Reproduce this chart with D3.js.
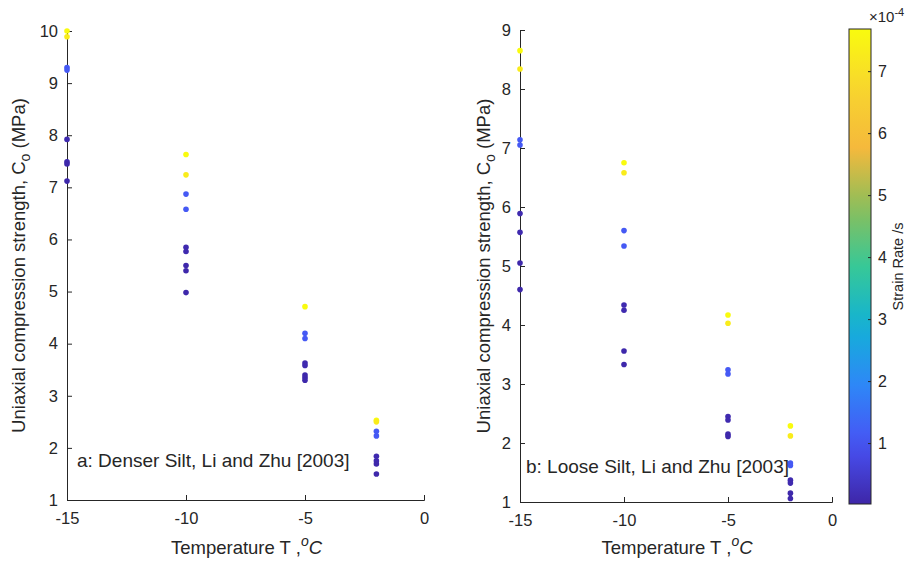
<!DOCTYPE html>
<html><head><meta charset="utf-8">
<script src="https://cdn.jsdelivr.net/npm/d3@7"></script>
<style>
body{margin:0;background:#fff;}
svg text{font-family:"Liberation Sans",Arial,Helvetica,sans-serif;fill:#262626;}
</style></head>
<body><svg id="c" width="913" height="561"></svg>
<script>
// ---- data ----
const xTicks = [-15, -10, -5, 0];
const yTicksA = [1,2,3,4,5,6,7,8,9,10];
const yTicksB = [1,2,3,4,5,6,7,8,9];
const cbTicks = [1,2,3,4,5,6,7];

// Panel a: Denser silt (temperature °C, strength MPa, strain rate x1e-4 /s)
const denseTemp = [-15,-15,-15,-15,-15,-15,-15,-15,
                   -10,-10,-10,-10,-10,-10,-10,-10,-10,
                   -5,-5,-5,-5,-5,-5,-5,-5,
                   -2,-2,-2,-2,-2,-2,-2,-2];
const denseStrength = [10.0,9.89,9.30,9.25,7.92,7.49,7.45,7.12,
                       7.63,7.24,6.87,6.58,5.85,5.77,5.50,5.40,4.98,
                       4.71,4.20,4.10,3.63,3.58,3.40,3.35,3.30,
                       2.53,2.50,2.32,2.23,1.84,1.75,1.69,1.50];
const denseRate = [7.68,7.3,1.1,1.1,0.1,0.1,0.05,0.05,
                   7.68,7.3,1.1,1.1,0.1,0.1,0.05,0.05,0.05,
                   7.68,1.1,1.1,0.1,0.1,0.05,0.05,0.05,
                   7.68,7.3,1.1,1.1,0.1,0.1,0.05,0.05];

// Panel b: Loose silt
const looseTemp = [-15,-15,-15,-15,-15,-15,-15,-15,
                   -10,-10,-10,-10,-10,-10,-10,-10,
                   -5,-5,-5,-5,-5,-5,-5,-5,
                   -2,-2,-2,-2,-2,-2,-2,-2];
const looseStrength = [8.65,8.34,7.14,7.05,5.89,5.57,5.05,4.60,
                       6.75,6.58,5.60,5.34,4.34,4.25,3.56,3.33,
                       4.17,4.03,3.24,3.17,2.45,2.39,2.15,2.11,
                       2.29,2.12,1.66,1.62,1.37,1.32,1.15,1.06];
const looseRate = [7.68,7.3,1.1,1.1,0.1,0.1,0.05,0.05,
                   7.68,7.3,1.1,1.1,0.1,0.1,0.05,0.05,
                   7.68,7.3,1.1,1.1,0.1,0.1,0.05,0.05,
                   7.68,7.3,1.1,1.1,0.1,0.1,0.05,0.05];

const rateMin = 0.017, rateMax = 7.68;

// parula-like colormap
const parulaStops = ["#3e26a8","#4852f4","#2e87f7","#12b1d6","#37c897","#8cbe5a","#f5b93c","#f8d52e","#f9fb0e"];
const parula = d3.scaleLinear().domain(d3.range(parulaStops.length).map(i=>i/(parulaStops.length-1)))
  .range(parulaStops).interpolate(d3.interpolateRgb);
const color = d3.scaleSequential(t=>parula(t)).domain([rateMin, rateMax]);

const svg = d3.select("#c");
const ink = "#262626";
const fmt = d => String(d); // plain hyphen minus like the original

function panel(cfg){
  const x = d3.scaleLinear().domain([-15,0]).range([cfg.x0, cfg.x1]);
  const y = d3.scaleLinear().domain([1, cfg.ymax]).range([cfg.yb, cfg.yt]);
  const g = svg.append("g");
  const xa = g.append("g").attr("transform",`translate(0,${cfg.yb})`)
    .call(d3.axisBottom(x).tickValues(xTicks).tickSize(-5).tickPadding(12).tickFormat(fmt));
  const ya = g.append("g").attr("transform",`translate(${cfg.x0},0)`)
    .call(d3.axisLeft(y).tickValues(cfg.yticks).tickSize(-5).tickPadding(9).tickFormat(fmt));
  [xa,ya].forEach(a=>{
    a.selectAll("path").attr("stroke",ink).attr("stroke-width",1);
    a.selectAll("line").attr("stroke",ink);
    a.selectAll("text").attr("font-size","16.5px").attr("fill",ink);
  });
  const pts = cfg.temp.map((t,i)=>({t, s:cfg.str[i], r:cfg.rate[i]}));
  g.selectAll("circle.p").data(pts).enter().append("circle")
    .attr("cx",d=>x(d.t)).attr("cy",d=>y(d.s)).attr("r",2.8)
    .attr("fill",d=>color(d.r));
  // x label
  const xl = g.append("text").attr("x",(cfg.x0+cfg.x1)/2 + 1).attr("y",554)
    .attr("text-anchor","middle").attr("font-size","18.5px");
  xl.append("tspan").text("Temperature T ,");
  xl.append("tspan").attr("font-style","italic").attr("font-size","14px").attr("dy",-8).text("o");
  xl.append("tspan").attr("font-style","italic").attr("dy",8).text("C");
  // y label
  const yl = g.append("text").attr("transform",`translate(${cfg.ylx},${(cfg.yt+cfg.yb)/2}) rotate(-90)`)
    .attr("text-anchor","middle").attr("font-size","18.5px");
  yl.append("tspan").text("Uniaxial compression strength, C");
  yl.append("tspan").attr("font-size","14px").attr("dy",5).text("o");
  yl.append("tspan").attr("dy",-5).text(" (MPa)");
  // annotation
  g.append("text").attr("x",cfg.bx).attr("y",cfg.by).attr("font-size","19px").text(cfg.note);
}

panel({x0:67,x1:424,yb:500,yt:31,ymax:10,yticks:yTicksA,temp:denseTemp,str:denseStrength,rate:denseRate,
  ylx:25,note:"a: Denser Silt, Li and Zhu [2003]",bx:77,by:467});
panel({x0:520,x1:832,yb:502,yt:30,ymax:9,yticks:yTicksB,temp:looseTemp,str:looseStrength,rate:looseRate,
  ylx:490,note:"b: Loose Silt, Li and Zhu [2003]",bx:526,by:473});

// colorbar
const cbX=849, cbW=22, cbTop=29, cbBot=504;
const cy = d3.scaleLinear().domain([rateMin,rateMax]).range([cbBot,cbTop]);
const defs = svg.append("defs");
const grad = defs.append("linearGradient").attr("id","pg").attr("x1",0).attr("y1",1).attr("x2",0).attr("y2",0);
d3.range(0,1.0001,0.05).forEach(t=>grad.append("stop").attr("offset",t).attr("stop-color",parula(t)));
svg.append("rect").attr("x",cbX).attr("y",cbTop).attr("width",cbW).attr("height",cbBot-cbTop)
  .attr("fill","url(#pg)").attr("stroke",ink).attr("stroke-width",1);
const cba = svg.append("g").attr("transform",`translate(${cbX+cbW},0)`)
  .call(d3.axisRight(cy).tickValues(cbTicks).tickSize(-3).tickPadding(7).tickFormat(fmt));
cba.select("path").remove();
cba.selectAll("line").attr("stroke",ink);
cba.selectAll("text").attr("font-size","16px").attr("fill",ink);
const ex = svg.append("text").attr("x",869).attr("y",22).attr("font-size","15px");
ex.append("tspan").text("×10");
ex.append("tspan").attr("font-size","11px").attr("dy",-6).text("-4");
svg.append("text").attr("transform",`translate(903,${(cbTop+cbBot)/2}) rotate(-90)`)
  .attr("text-anchor","middle").attr("font-size","14.5px").text("Strain Rate /s");
</script></body></html>
